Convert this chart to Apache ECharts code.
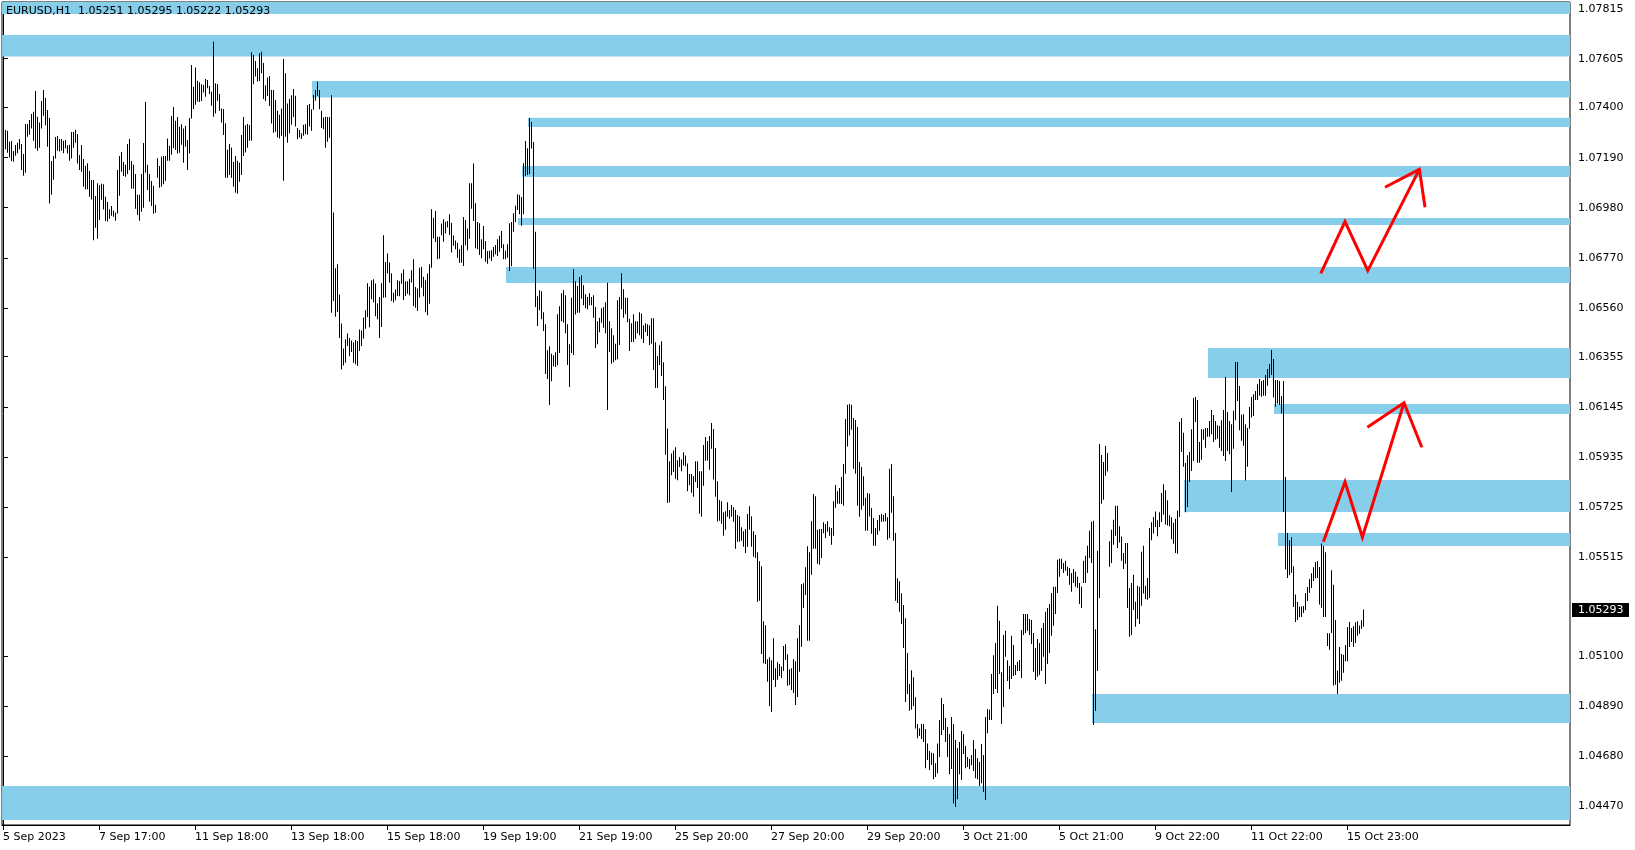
<!DOCTYPE html>
<html><head><meta charset="utf-8">
<script src="https://cdn.jsdelivr.net/npm/echarts@6/dist/echarts.min.js"></script>
<style>html,body{margin:0;padding:0;background:#fff}#c{width:1635px;height:850px}</style>
</head><body><div id="c"></div>
<script>
// ---- header / last bar ----
const symbol = 'EURUSD';
const timeframe = 'H1';
const lastOHLC = [1.05251, 1.05295, 1.05222, 1.05293];

// ---- x tick labels (bar index -> label) ----
const xTickBars = [0, 48, 96, 144, 192, 240, 288, 336, 384, 432, 480, 528, 576, 624, 672];
const xTickLabels = ['5 Sep 2023', '7 Sep 17:00', '11 Sep 18:00', '13 Sep 18:00', '15 Sep 18:00', '19 Sep 19:00', '21 Sep 19:00', '25 Sep 20:00', '27 Sep 20:00', '29 Sep 20:00', '3 Oct 21:00', '5 Oct 21:00', '9 Oct 22:00', '11 Oct 22:00', '15 Oct 23:00'];
const xSlots = 784;

// ---- y tick labels ----
const yTickValues = [1.07815, 1.07605, 1.07400, 1.07190, 1.06980, 1.06770, 1.06560, 1.06355, 1.06145, 1.05935, 1.05725, 1.05515, 1.05100, 1.04890, 1.04680, 1.04470];
const yMin = 1.043906, yMax = 1.07843;

// ---- hourly bars: highs / lows (5 Sep .. 16 Oct 2023) ----
const highs1 = [1.07310,1.07306,1.07303,1.07257,1.07260,1.07218,1.07243,1.07253,1.07268,1.07247,
1.07205,1.07331,1.07331,1.07348,1.07373,1.07383,1.07470,1.07362,1.07337,1.07428,
1.07474,1.07440,1.07390,1.07356,1.07176,1.07197,1.07277,1.07281,1.07268,1.07268,
1.07261,1.07264,1.07242,1.07244,1.07298,1.07298,1.07307,1.07289,1.07201,1.07243,
1.07184,1.07156,1.07167,1.07134,1.07096,1.07096,1.07029,1.07083,1.07075,1.07081,
1.07079,1.07026,1.07004,1.06974,1.06987,1.06968,1.06960,1.07138,1.07197,1.07214,
1.07172,1.07160,1.07247,1.07268,1.07176,1.07160,1.07121,1.07034,1.07034,1.07121,
1.07251,1.07424,1.07160,1.07121,1.07092,1.07072,1.06992,1.07188,1.07155,1.07194,
1.07197,1.07197,1.07270,1.07240,1.07365,1.07403,1.07345,1.07361,1.07320,1.07330,
1.07312,1.07323,1.07264,1.07356,1.07579,1.07487,1.07568,1.07513,1.07506,1.07498,
1.07495,1.07520,1.07516,1.07491,1.07466,1.07676,1.07502,1.07499,1.07457,1.07396,
1.07394,1.07334,1.07223,1.07247,1.07233];
const lows1 = [1.07047,1.07225,1.07211,1.07191,1.07176,1.07173,1.07198,1.07208,1.07225,1.07138,
1.07114,1.07127,1.07278,1.07286,1.07312,1.07261,1.07228,1.07219,1.07232,1.07312,
1.07366,1.07326,1.07236,1.06998,1.07034,1.07097,1.07187,1.07219,1.07216,1.07219,
1.07209,1.07228,1.07207,1.07177,1.07187,1.07232,1.07253,1.07165,1.07138,1.07131,
1.07068,1.07058,1.07057,1.07026,1.07015,1.06844,1.06896,1.06850,1.06929,1.07013,
1.06973,1.06924,1.06922,1.06934,1.06946,1.06942,1.06925,1.06956,1.07030,1.07131,
1.07113,1.07110,1.07121,1.07138,1.07060,1.07060,1.06976,1.06950,1.06925,1.06963,
1.06980,1.07127,1.07054,1.07006,1.06987,1.06955,1.06959,1.07106,1.07064,1.07068,
1.07079,1.07093,1.07177,1.07177,1.07202,1.07230,1.07222,1.07207,1.07211,1.07244,
1.07169,1.07236,1.07138,1.07207,1.07354,1.07394,1.07412,1.07426,1.07424,1.07428,
1.07463,1.07446,1.07481,1.07457,1.07408,1.07362,1.07375,1.07429,1.07387,1.07337,
1.07285,1.07106,1.07106,1.07117,1.07106];

const highs2 = [1.07172,1.07197,1.07177,1.07169,1.07285,1.07361,1.07326,1.07331,1.07327,1.07632,
1.07621,1.07596,1.07565,1.07628,1.07634,1.07587,1.07494,1.07526,1.07533,1.07474,
1.07474,1.07432,1.07387,1.07370,1.07396,1.07604,1.07544,1.07417,1.07436,1.07452,
1.07478,1.07450,1.07314,1.07306,1.07292,1.07328,1.07331,1.07411,1.07415,1.07393,
1.07453,1.07474,1.07508,1.07474,1.07387,1.07359,1.07362,1.07361,1.07361,1.07452,
1.06960,1.06726,1.06743,1.06616,1.06494,1.06389,1.06428,1.06452,1.06434,1.06423,
1.06416,1.06425,1.06421,1.06469,1.06465,1.06519,1.06550,1.06663,1.06648,1.06676,
1.06680,1.06662,1.06578,1.06606,1.06663,1.06865,1.06752,1.06788,1.06750,1.06705,
1.06623,1.06637,1.06676,1.06673,1.06705,1.06721,1.06672,1.06672,1.06682,1.06718,
1.06764,1.06647,1.06641,1.06728,1.06732,1.06690,1.06676,1.06704,1.06743,1.06974,
1.06938,1.06966,1.06858,1.06858,1.06914,1.06932,1.06921,1.06924,1.06953,1.06917,
1.06864,1.06843,1.06833,1.06806];
const lows2 = [1.07068,1.07043,1.07039,1.07089,1.07117,1.07197,1.07212,1.07232,1.07261,1.07261,
1.07498,1.07530,1.07509,1.07512,1.07544,1.07436,1.07428,1.07449,1.07407,1.07333,
1.07295,1.07299,1.07275,1.07270,1.07282,1.07093,1.07278,1.07253,1.07292,1.07328,
1.07361,1.07321,1.07267,1.07275,1.07268,1.07282,1.07289,1.07286,1.07321,1.07303,
1.07391,1.07429,1.07450,1.07393,1.07314,1.07309,1.07232,1.07257,1.07274,1.06539,
1.06589,1.06523,1.06543,1.06434,1.06301,1.06318,1.06330,1.06400,1.06357,1.06375,
1.06330,1.06323,1.06316,1.06379,1.06400,1.06431,1.06472,1.06522,1.06479,1.06596,
1.06584,1.06525,1.06512,1.06434,1.06480,1.06602,1.06603,1.06704,1.06665,1.06589,
1.06582,1.06592,1.06610,1.06609,1.06661,1.06593,1.06610,1.06619,1.06613,1.06666,
1.06568,1.06560,1.06547,1.06603,1.06645,1.06609,1.06542,1.06529,1.06577,1.06728,
1.06851,1.06836,1.06764,1.06766,1.06865,1.06837,1.06872,1.06897,1.06866,1.06792,
1.06820,1.06806,1.06770,1.06749];

const highs3 = [1.06823,1.06941,1.06928,1.06893,1.07083,1.07083,1.07166,1.06999,1.06920,1.06915,
1.06848,1.06903,1.06840,1.06798,1.06799,1.06802,1.06815,1.06824,1.06848,1.06862,
1.06882,1.06827,1.06799,1.06827,1.06915,1.06920,1.06957,1.06988,1.07037,1.07033,
1.07025,1.07167,1.07260,1.07230,1.07356,1.07340,1.07256,1.06879,1.06609,1.06634,
1.06630,1.06542,1.06491,1.06382,1.06399,1.06367,1.06361,1.06374,1.06533,1.06567,
1.06621,1.06634,1.06613,1.06491,1.06407,1.06602,1.06722,1.06672,1.06652,1.06689,
1.06697,1.06655,1.06617,1.06606,1.06621,1.06605,1.06613,1.06564,1.06504,1.06518,
1.06558,1.06564,1.06584,1.06665,1.06504,1.06474,1.06445,1.06409,1.06592,1.06605,
1.06705,1.06638,1.06602,1.06602,1.06514,1.06495,1.06533,1.06504,1.06504,1.06542,
1.06536,1.06487,1.06495,1.06491,1.06487,1.06516,1.06516,1.06416,1.06358,1.06403,
1.06420,1.06332,1.06231,1.06054,1.05916,1.05949,1.05962,1.05975,1.05921,1.05934,
1.05924,1.05954,1.05941,1.05907,1.05863];
const lows3 = [1.06749,1.06736,1.06823,1.06802,1.06850,1.06976,1.06924,1.06810,1.06806,1.06782,
1.06768,1.06806,1.06753,1.06745,1.06767,1.06757,1.06774,1.06785,1.06778,1.06795,
1.06810,1.06764,1.06764,1.06770,1.06715,1.06735,1.06879,1.06920,1.06970,1.06953,
1.06904,1.06953,1.07113,1.07117,1.07121,1.07228,1.06724,1.06564,1.06484,1.06550,
1.06512,1.06463,1.06283,1.06262,1.06152,1.06252,1.06315,1.06312,1.06319,1.06371,
1.06504,1.06497,1.06453,1.06320,1.06228,1.06371,1.06362,1.06532,1.06539,1.06539,
1.06598,1.06571,1.06558,1.06554,1.06571,1.06571,1.06518,1.06392,1.06407,1.06458,
1.06497,1.06476,1.06453,1.06131,1.06375,1.06325,1.06332,1.06340,1.06344,1.06404,
1.06554,1.06518,1.06533,1.06500,1.06379,1.06417,1.06417,1.06430,1.06453,1.06445,
1.06430,1.06413,1.06459,1.06442,1.06404,1.06409,1.06299,1.06224,1.06224,1.06320,
1.06274,1.06173,1.05944,1.05741,1.05745,1.05858,1.05871,1.05843,1.05837,1.05892,
1.05875,1.05899,1.05896,1.05791,1.05816];

const highs4 = [1.05863,1.05854,1.05917,1.05917,1.05875,1.05875,1.05985,1.06018,1.06001,1.06022,
1.06077,1.06052,1.05972,1.05833,1.05754,1.05749,1.05703,1.05707,1.05745,1.05712,
1.05733,1.05724,1.05712,1.05691,1.05686,1.05640,1.05623,1.05632,1.05695,1.05728,
1.05686,1.05623,1.05607,1.05535,1.05497,1.05476,1.05245,1.05229,1.05086,1.05094,
1.05082,1.05174,1.05048,1.05073,1.05066,1.05056,1.05142,1.05149,1.05107,1.05044,
1.05048,1.05086,1.05077,1.05174,1.05229,1.05401,1.05405,1.05472,1.05560,1.05535,
1.05665,1.05779,1.05770,1.05628,1.05632,1.05632,1.05661,1.05653,1.05665,1.05640,
1.05636,1.05749,1.05817,1.05791,1.05804,1.05850,1.05905,1.06094,1.06153,1.06157,
1.06153,1.06098,1.06090,1.06060,1.05913,1.05892,1.05854,1.05763,1.05783,1.05780,
1.05720,1.05678,1.05636,1.05670,1.05691,1.05695,1.05691,1.05699,1.05682,1.05885,
1.05905,1.05770,1.05615,1.05426,1.05413,1.05363,1.05313,1.05258,1.05112,1.04982,
1.05040,1.05010,1.04926,1.04814,1.04796];
const lows4 = [1.05784,1.05768,1.05829,1.05804,1.05696,1.05684,1.05814,1.05919,1.05919,1.05881,
1.05969,1.05840,1.05768,1.05664,1.05667,1.05654,1.05604,1.05629,1.05684,1.05675,
1.05684,1.05663,1.05549,1.05579,1.05579,1.05583,1.05558,1.05532,1.05558,1.05629,
1.05558,1.05516,1.05511,1.05327,1.05331,1.05108,1.05069,1.05066,1.04991,1.04890,
1.04865,1.04999,1.04970,1.05000,1.05016,1.05007,1.05037,1.05083,1.04975,1.04978,
1.04957,1.04944,1.04894,1.04928,1.05033,1.05138,1.05301,1.05355,1.05163,1.05163,
1.05440,1.05549,1.05549,1.05486,1.05482,1.05511,1.05614,1.05595,1.05621,1.05604,
1.05566,1.05604,1.05721,1.05738,1.05738,1.05737,1.05730,1.05864,1.05978,1.06024,
1.06049,1.05885,1.05864,1.05730,1.05684,1.05713,1.05730,1.05625,1.05625,1.05685,
1.05612,1.05562,1.05562,1.05608,1.05625,1.05663,1.05663,1.05665,1.05587,1.05595,
1.05700,1.05583,1.05331,1.05322,1.05285,1.05234,1.05133,1.04907,1.04940,1.04870,
1.04874,1.04890,1.04795,1.04755,1.04764];

const highs5 = [1.04814,1.04814,1.04793,1.04733,1.04701,1.04694,1.04692,1.04650,1.04733,1.04831,
1.04923,1.04898,1.04839,1.04802,1.04772,1.04844,1.04814,1.04747,1.04713,1.04739,
1.04785,1.04772,1.04722,1.04676,1.04667,1.04684,1.04747,1.04709,1.04671,1.04655,
1.04730,1.04684,1.04844,1.04877,1.04874,1.05024,1.05103,1.05154,1.05310,1.05247,
1.05031,1.05188,1.05205,1.05082,1.05058,1.05184,1.05146,1.05062,1.05075,1.05083,
1.05209,1.05276,1.05276,1.05276,1.05255,1.05251,1.05196,1.05133,1.05171,1.05154,
1.05217,1.05238,1.05285,1.05301,1.05318,1.05364,1.05390,1.05390,1.05503,1.05507,
1.05507,1.05490,1.05499,1.05474,1.05469,1.05448,1.05465,1.05453,1.05432,1.05406,
1.05390,1.05499,1.05520,1.05562,1.05625,1.05663,1.05667,1.05212,1.05541,1.05989,
1.05943,1.05913,1.05980,1.05951,1.05581,1.05629,1.05671,1.05730,1.05730,1.05644,
1.05601,1.05532,1.05574,1.05574,1.05385,1.05406,1.05440,1.05327,1.05394,1.05390,
1.05537,1.05562,1.05394,1.05427,1.05637];
const lows5 = [1.04751,1.04739,1.04629,1.04663,1.04621,1.04642,1.04583,1.04592,1.04608,1.04676,
1.04768,1.04789,1.04739,1.04676,1.04604,1.04625,1.04482,1.04466,1.04499,1.04604,
1.04579,1.04688,1.04629,1.04634,1.04625,1.04641,1.04617,1.04587,1.04583,1.04554,
1.04566,1.04529,1.04495,1.04776,1.04831,1.04831,1.04940,1.04961,1.04944,1.05024,
1.04814,1.04886,1.05096,1.04995,1.04961,1.05003,1.05016,1.05020,1.05037,1.05037,
1.05007,1.05188,1.05196,1.05205,1.05188,1.05150,1.05033,1.04999,1.05012,1.05020,
1.05037,1.05096,1.04982,1.05066,1.05112,1.05184,1.05226,1.05276,1.05364,1.05432,
1.05465,1.05448,1.05457,1.05436,1.05398,1.05369,1.05406,1.05390,1.05385,1.05318,
1.05301,1.05406,1.05406,1.05448,1.05511,1.05490,1.04810,1.04869,1.05037,1.05343,
1.05738,1.05755,1.05856,1.05873,1.05474,1.05490,1.05566,1.05604,1.05553,1.05576,
1.05499,1.05465,1.05486,1.05301,1.05180,1.05188,1.05293,1.05222,1.05255,1.05234,
1.05310,1.05362,1.05339,1.05335,1.05343];

const highs6 = [1.05661,1.05683,1.05706,1.05669,1.05703,1.05783,1.05820,1.05795,1.05753,1.05690,
1.05682,1.05658,1.05675,1.05710,1.06081,1.06098,1.06036,1.05909,1.05942,1.05955,
1.06051,1.06182,1.06186,1.06173,1.05997,1.06051,1.06051,1.06056,1.06056,1.06085,
1.06131,1.06110,1.06085,1.06068,1.06064,1.06089,1.06131,1.06270,1.06123,1.06085,
1.06072,1.06128,1.06333,1.06333,1.06232,1.06112,1.06114,1.06072,1.06056,1.06144,
1.06186,1.06198,1.06211,1.06240,1.06261,1.06253,1.06257,1.06278,1.06303,1.06324,
1.06383,1.06345,1.06257,1.06257,1.06253,1.06190,1.06253,1.05850,1.05615,1.05585,
1.05598,1.05476,1.05358,1.05326,1.05307,1.05307,1.05309,1.05364,1.05389,1.05423,
1.05447,1.05472,1.05494,1.05498,1.05473,1.05571,1.05561,1.05535,1.05195,1.05195,
1.05459,1.05398,1.05251,1.05039,1.05137,1.05108,1.05105,1.05146,1.05221,1.05242,
1.05217,1.05224,1.05241,1.05245,1.05228,1.05249,1.05295];
const lows6 = [1.05585,1.05613,1.05641,1.05602,1.05641,1.05662,1.05692,1.05651,1.05647,1.05644,
1.05589,1.05570,1.05532,1.05528,1.05683,1.05955,1.05893,1.05703,1.05725,1.05829,
1.05876,1.05918,1.06081,1.05910,1.05910,1.05923,1.06007,1.05973,1.06019,1.06019,
1.06030,1.05997,1.06007,1.06011,1.05973,1.05959,1.05939,1.05918,1.05959,1.05946,
1.05788,1.05969,1.06089,1.06169,1.06047,1.06002,1.05981,1.05836,1.05893,1.06053,
1.06100,1.06106,1.06173,1.06173,1.06191,1.06187,1.06191,1.06191,1.06233,1.06266,
1.06278,1.06184,1.06145,1.06159,1.06152,1.06117,1.05704,1.05462,1.05427,1.05438,
1.05448,1.05305,1.05242,1.05251,1.05262,1.05263,1.05280,1.05293,1.05330,1.05365,
1.05385,1.05414,1.05426,1.05427,1.05316,1.05302,1.05263,1.05263,1.05141,1.05126,
1.05196,1.04976,1.04979,1.04940,1.04987,1.04996,1.05029,1.05078,1.05078,1.05137,
1.05158,1.05137,1.05154,1.05185,1.05193,1.05214,1.05222];

// ---- supply / demand zones: first bar, upper price, lower price ----
const zoneStart  = [0, 0, 155, 263, 260, 258, 252, 603, 636, 591, 638, 545, 0];
const zoneTop    = [1.07870, 1.07705, 1.07512, 1.07357, 1.07155, 1.06937, 1.06731, 1.06392, 1.06157, 1.05838, 1.05616, 1.04940, 1.04554];
const zoneBottom = [1.07793, 1.07614, 1.07442, 1.07319, 1.07109, 1.06908, 1.06664, 1.06266, 1.06115, 1.05704, 1.05561, 1.04819, 1.04412];

// ---- hand-drawn red arrows: [bar index, price] ----
const upperArrowPath = [[658.9, 1.06705], [671, 1.06922], [682.4, 1.06716], [708.2, 1.07141]];
const upperArrowHead = [[691, 1.07066], [708.2, 1.07141], [711, 1.06982]];
const lowerArrowPath = [[660.2, 1.05579], [671, 1.05830], [679.7, 1.05598], [700.5, 1.06162]];
const lowerArrowHead = [[682.2, 1.06059], [700.5, 1.06162], [709.4, 1.05975]];

// ---- build ----
const highs = [].concat(highs1, highs2, highs3, highs4, highs5, highs6);
const lows = [].concat(lows1, lows2, lows3, lows4, lows5, lows6);
const barData = highs.map((h, i) => [i, lows[i], h]);
const zoneData = zoneStart.map((s, i) => [s, zoneTop[i], zoneBottom[i]]);
const labelMap = {};
xTickBars.forEach((b, i) => { labelMap[b] = xTickLabels[i]; });
const lastIndex = highs.length - 1;

const FONT = 'DejaVu Sans';
const chart = echarts.init(document.getElementById('c'), null, {renderer: 'canvas'});

function arrowSeries(data) {
  return {
    type: 'line', data: data, showSymbol: false, symbol: 'none', z: 5,
    lineStyle: {color: '#ff0000', width: 3, join: 'miter'}, silent: true, animation: false
  };
}

const option = {
  animation: false,
  backgroundColor: '#ffffff',
  title: {
    text: symbol + ',' + timeframe + '  ' + lastOHLC.map(v => v.toFixed(5)).join(' '),
    left: 6, top: 6, padding: 0,
    textStyle: {fontFamily: FONT, fontSize: 11, fontWeight: 'normal', color: '#000'}
  },
  grid: {left: 2, top: 2, right: 65, bottom: 25, show: true, borderColor: '#000', borderWidth: 1, backgroundColor: 'transparent'},
  xAxis: {
    type: 'value', min: -0.5, max: xSlots - 0.5,
    splitLine: {show: false},
    axisLine: {show: true, lineStyle: {color: '#000', width: 1}},
    axisTick: {show: true, length: 5, lineStyle: {color: '#000'}, customValues: xTickBars},
    axisLabel: {
      customValues: xTickBars, align: 'left', margin: 7,
      fontFamily: FONT, fontSize: 11, color: '#000',
      formatter: v => labelMap[Math.round(v)] || ''
    }
  },
  yAxis: {
    type: 'value', position: 'right', min: yMin, max: yMax,
    splitLine: {show: false},
    axisLine: {show: true, lineStyle: {color: '#000', width: 1}},
    axisTick: {show: true, length: 5, lineStyle: {color: '#000'}, customValues: yTickValues},
    axisLabel: {
      customValues: yTickValues, margin: 8,
      fontFamily: FONT, fontSize: 11, color: '#000',
      formatter: v => v.toFixed(5)
    }
  },
  series: [
    {
      type: 'custom', z: 1, silent: true, data: zoneData,
      encode: {x: 0, y: [1, 2]},
      renderItem: function (params, api) {
        const cs = params.coordSys;
        const a = api.coord([api.value(0), api.value(1)]);
        const b = api.coord([api.value(0), api.value(2)]);
        const left = a[0] - 1;
        const right = cs.x + cs.width;
        const top = Math.max(a[1], cs.y);
        const bottom = Math.min(b[1], cs.y + cs.height);
        return {type: 'rect', shape: {x: left, y: top, width: right - left, height: bottom - top},
          style: {fill: '#87ceeb'}};
      }
    },
    {
      type: 'custom', z: 2, silent: true, data: barData,
      encode: {x: 0, y: [1, 2]},
      renderItem: function (params, api) {
        const lo = api.coord([api.value(0), api.value(1)]);
        const hi = api.coord([api.value(0), api.value(2)]);
        const px = Math.round(lo[0] - 0.5);
        return {type: 'rect', shape: {x: px, y: hi[1], width: 1, height: Math.max(1, lo[1] - hi[1])},
          style: {fill: '#000'}};
      }
    },
    // current price tag on the price scale
    {
      type: 'custom', z: 10, silent: true, clip: false,
      data: [[lastIndex, lastOHLC[3]]],
      encode: {x: 0, y: 1},
      renderItem: function (params, api) {
        const cs = params.coordSys;
        const p = api.coord([api.value(0), api.value(1)]);
        const x0 = cs.x + cs.width + 2;
        return {
          type: 'group',
          children: [
            {type: 'rect', shape: {x: x0, y: Math.round(p[1]) - 7, width: 57, height: 14}, style: {fill: '#000'}},
            {type: 'text', x: x0 + 6, y: Math.round(p[1]),
              style: {text: api.value(1).toFixed(5), fill: '#fff', font: '11px "DejaVu Sans"', verticalAlign: 'middle', align: 'left'}}
          ]
        };
      }
    },
    arrowSeries(upperArrowPath),
    arrowSeries(upperArrowHead),
    arrowSeries(lowerArrowPath),
    arrowSeries(lowerArrowHead)
  ]
};
chart.setOption(option);
</script>
</body></html>
